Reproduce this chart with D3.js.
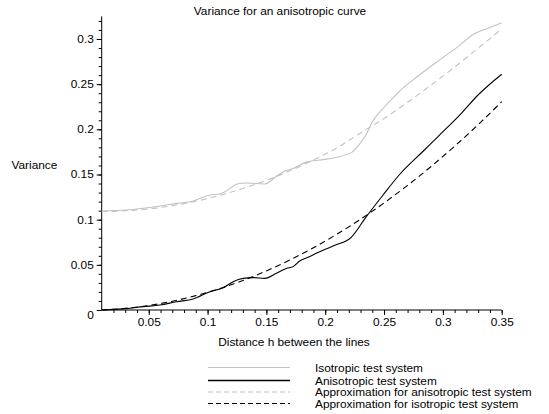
<!DOCTYPE html>
<html><head><meta charset="utf-8">
<script src="https://cdn.jsdelivr.net/npm/d3@7"></script>
<style>body{margin:0;background:#fff}svg{display:block}text{font-family:"Liberation Sans",Arial,sans-serif;fill:#000}</style>
</head><body>
<script>
const title = "Variance for an anisotropic curve";
const xLabel = "Distance h between the lines";
const yLabel = "Variance";
const xTicks = [0.05, 0.1, 0.15, 0.2, 0.25, 0.3, 0.35];
const yTicks = [0, 0.05, 0.1, 0.15, 0.2, 0.25, 0.3];
const seriesNames = ["Isotropic test system","Anisotropic test system","Approximation for anisotropic test system","Approximation for isotropic test system"];

const isoH = [0.01,0.031,0.0595,0.0737,0.0878,0.102,0.1104,0.1217,0.1249,0.133,0.1486,0.1585,0.1645,0.1727,0.1843,0.2013,0.2225,0.2296,0.2353,0.2393,0.2506,0.2648,0.2789,0.2959,0.3129,0.327,0.3383,0.35];
const isoV = [0.1096,0.1107,0.1151,0.118,0.1207,0.1273,0.1284,0.137,0.1395,0.1405,0.1395,0.148,0.153,0.1567,0.164,0.167,0.1745,0.1845,0.1955,0.2066,0.225,0.2443,0.259,0.2757,0.2915,0.306,0.312,0.318];

const aniH = [0.01,0.031,0.0453,0.0595,0.0737,0.0878,0.102,0.1133,0.1217,0.1302,0.1387,0.1486,0.1585,0.167,0.1727,0.1783,0.1854,0.1924,0.2066,0.2221,0.2349,0.249,0.2632,0.2834,0.2959,0.3157,0.3299,0.35];
const aniV = [0,0.0015,0.0037,0.0055,0.0092,0.0122,0.0203,0.0247,0.0314,0.035,0.0358,0.035,0.0406,0.046,0.048,0.0542,0.0583,0.0627,0.0709,0.0805,0.1033,0.127,0.150,0.176,0.192,0.2177,0.238,0.261];

const apxH = [0.01,0.03,0.05,0.07,0.09,0.11,0.13,0.15,0.17,0.19,0.21,0.23,0.25,0.27,0.29,0.31,0.33,0.35];
const apxAniV = [0.109,0.1098,0.1119,0.1155,0.1204,0.1267,0.1345,0.1436,0.1541,0.166,0.1795,0.196,0.212,0.230,0.249,0.269,0.290,0.311];
const apxIsoV = [0,0.0018,0.005,0.0097,0.0159,0.0235,0.0327,0.0433,0.0554,0.0689,0.084,0.1005,0.1185,0.138,0.1589,0.1813,0.2052,0.2306];

const W = 549, H = 414;
const svg = d3.select("body").append("svg").attr("width", W).attr("height", H);
const x = d3.scaleLinear().domain([0.01, 0.35]).range([101.7, 501.7]);
const y = d3.scaleLinear().domain([0, 0.325]).range([310, 16.4]);
const FS = 10.5, SX = 1.13;

function label(px, py, txt, anchor) {
  svg.append("text").attr("transform", `translate(${px},${py}) scale(${SX},1)`)
    .attr("text-anchor", anchor).attr("font-size", FS).text(txt);
}
label(280, 14.5, title, "middle");
label(294, 346, xLabel, "middle");
label(11.5, 169, yLabel, "start");

// axes
const gx = svg.append("g").attr("transform", `translate(0,${y(0)})`);
gx.call(d3.axisBottom(x).tickValues(d3.range(2,36).map(i=>i/100)).tickSize(3).tickFormat(""));
gx.select(".domain").remove();
const gx2 = svg.append("g").attr("transform", `translate(0,${y(0)})`);
gx2.call(d3.axisBottom(x).tickValues(xTicks).tickSize(5).tickPadding(4).tickFormat(d=>String(+d.toFixed(2))));
gx2.selectAll("text").attr("font-size", FS).attr("font-family", null).attr("transform", `scale(${SX},1)`);
gx2.select(".domain").remove();
svg.append("line").attr("x1", x(0.01)).attr("x2", x(0.35)).attr("y1", y(0)).attr("y2", y(0)).attr("stroke","#000");

const gy = svg.append("g").attr("transform", `translate(${x(0.01)},0)`);
gy.call(d3.axisLeft(y).tickValues(d3.range(1,33).map(i=>i/100)).tickSize(3).tickFormat(""));
gy.select(".domain").remove();
const gy2 = svg.append("g").attr("transform", `translate(${x(0.01)},0)`);
gy2.call(d3.axisLeft(y).tickValues(yTicks).tickSize(5).tickPadding(2).tickFormat(d=>String(+d.toFixed(2))));
gy2.selectAll("text").attr("font-size", FS).attr("font-family", null).attr("transform", `scale(${SX},1)`);
gy2.selectAll(".tick").filter(d=>d===0).select("text").attr("dy","0.85em");
gy2.select(".domain").remove();
svg.append("line").attr("x1", x(0.01)).attr("x2", x(0.01)).attr("y1", y(0)).attr("y2", y(0.325)).attr("stroke","#000");

const line = d3.line().x(d=>x(d[0])).y(d=>y(d[1])).curve(d3.curveMonotoneX);
const series = [
  {h: isoH, v: isoV, color:"#c2c2c2", dash:null},
  {h: aniH, v: aniV, color:"#000", dash:null},
  {h: apxH, v: apxAniV, color:"#c2c2c2", dash:"6,4"},
  {h: apxH, v: apxIsoV, color:"#000", dash:"6,4"}
];
series.forEach(s=>{
  svg.append("path").datum(s.h.map((h,i)=>[h,s.v[i]])).attr("d", line)
    .attr("fill","none").attr("stroke", s.color).attr("stroke-width",1.1)
    .attr("stroke-dasharray", s.dash);
});

// legend
const ly = [367.5, 380.5, 392, 403.5];
series.forEach((s,i)=>{
  svg.append("line").attr("x1",208).attr("x2",290).attr("y1",ly[i]).attr("y2",ly[i])
    .attr("stroke", s.color).attr("stroke-width", i===1 ? 1.6 : 1.2).attr("stroke-dasharray", s.dash ? "5,3" : null);
  label(315, ly[i]+4, seriesNames[i], "start");
});
</script>
</body></html>
